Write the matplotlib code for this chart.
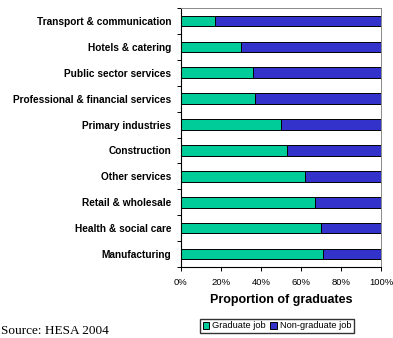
import numpy as np
import matplotlib.pyplot as plt
from matplotlib.ticker import FixedLocator, PercentFormatter

# sectors, top to bottom
sectors = [
    "Transport & communication",
    "Hotels & catering",
    "Public sector services",
    "Professional & financial services",
    "Primary industries",
    "Construction",
    "Other services",
    "Retail & wholesale",
    "Health & social care",
    "Manufacturing",
]
graduate_pct = [17, 30, 36, 37, 50, 53, 62, 67, 70, 71]
non_graduate_pct = [100 - g for g in graduate_pct]

green = "#00CC99"
blue = "#3333CC"

plt.rcParams['font.family'] = ['Liberation Sans', 'DejaVu Sans']

fig = plt.figure(figsize=(3.93, 3.38), dpi=100)
ax = fig.add_axes([181 / 393, 1 - 267 / 338, 200 / 393, 259 / 338])

y = np.arange(len(sectors))
ax.barh(y, graduate_pct, height=0.41, color=green, edgecolor="black",
        linewidth=0.7, label="Graduate job")
ax.barh(y, non_graduate_pct, left=graduate_pct, height=0.41, color=blue,
        edgecolor="black", linewidth=0.7, label="Non-graduate job")

ax.set_xlim(0, 100)
ax.set_ylim(len(sectors) - 0.5, -0.5)

ax.set_xticks(np.arange(0, 101, 20))
ax.xaxis.set_major_formatter(PercentFormatter(decimals=0))
ax.tick_params(axis="x", direction="out", length=3, width=0.7,
               labelsize=6.8, pad=5)

ax.set_yticks(y)
ax.set_yticklabels(sectors, fontsize=7.3, fontweight="bold")
ax.tick_params(axis="y", which="major", length=0, pad=7)
ax.yaxis.set_minor_locator(FixedLocator(np.arange(-0.5, len(sectors), 1)))
ax.tick_params(axis="y", which="minor", direction="out", length=3, width=0.7)

for side in ("top", "right"):
    ax.spines[side].set_color("#888888")
    ax.spines[side].set_linewidth(0.7)
for side in ("left", "bottom"):
    ax.spines[side].set_linewidth(0.8)

ax.set_xlabel("Proportion of graduates", fontsize=9, fontweight="bold",
              labelpad=5)

fig.legend(loc="center", bbox_to_anchor=(277 / 393, 1 - 326 / 338),
           ncol=2, fontsize=6.7, frameon=True, fancybox=False,
           edgecolor="black", handlelength=0.7, handleheight=0.7,
           handletextpad=0.3, columnspacing=0.5, borderpad=0.3,
           borderaxespad=0)

fig.text(1 / 393, 1 - 334 / 338, "Source: HESA 2004", fontsize=9.5,
         family=["Liberation Serif"], ha="left", va="baseline")

fig.savefig("out.png", dpi=100)
